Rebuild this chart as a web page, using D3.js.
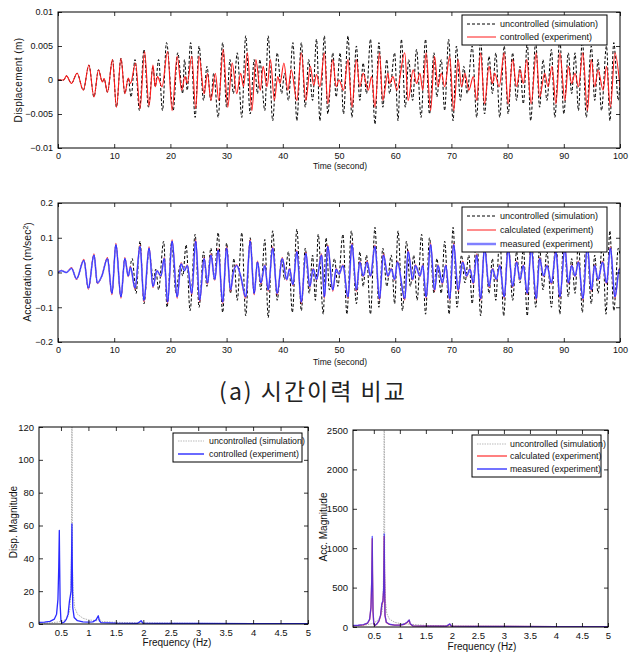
<!DOCTYPE html>
<html>
<head>
<meta charset="utf-8">
<script src="https://cdn.jsdelivr.net/npm/d3@7"></script>
<style>
  body { margin: 0; background: #fff; }
  text { font-family: "Liberation Sans", Arial, sans-serif; }
</style>
</head>
<body>
<div id="chart"></div>
<script>
// ---- data ----

// displacement time history [time (s), displacement (m)]
const dispControlled = [[0,0],[1,0],[1.5,0.0006],[2.4,-0.0005],[3.4,0.001],[4.5,-0.0015],[5.5,0.0022],[6.4,-0.0025],[7.2,0.0015],[7.9,-0.0003],[8.2,0.0002],[8.8,-0.0018],[9.7,0.003],[10.4,-0.004],[11.2,0.0032],[11.9,-0.002],[12.5,0.0003],[12.9,-0.0005],[13.8,0.0025],[14.6,-0.0042],[15.4,0.0042],[16.2,-0.0038],[16.9,0.0022],[17.3,-0.001],[17.7,0.0005],[18.5,-0.001],[19.5,0.0042],[20.3,-0.0045],[21.2,0.0035],[22,-0.0015],[22.6,0.0005],[23,-0.0005],[23.8,0.0035],[24.5,-0.0042],[25.1,0.0035],[26,-0.002],[26.6,0.001],[27.2,-0.003],[28,0.001],[28.6,-0.003],[29.4,0.0045],[30.2,-0.004],[31,0.0025],[31.8,-0.002],[32.5,0.001],[33,-0.001],[33.7,0.004],[34.5,-0.0045],[35.2,0.003],[36,-0.0015],[36.5,0.002],[37.2,-0.001],[37.8,0.003],[38.5,-0.003],[39.1,0.0005],[39.5,-0.0005],[40.2,0.0025],[40.9,-0.0015],[41.5,0.0015],[42.5,-0.003],[43.3,0.004],[44.1,-0.003],[44.9,0.002],[45.5,-0.0008],[46,0.0008],[46.6,-0.001],[47.4,0.004],[48,-0.0035],[48.9,0.003],[49.5,-0.001],[50,0],[50.8,-0.0015],[51.6,0.003],[52.3,-0.004],[53.1,0.003],[53.7,-0.001],[54.3,0.001],[55.2,-0.0015],[55.8,0.0005],[56.4,-0.004],[57.2,0.004],[57.8,-0.003],[58.7,0.001],[59,-0.0005],[59.6,0.0005],[60.3,-0.0015],[61.7,0.004],[62.3,-0.003],[63.2,0.0015],[63.8,-0.0005],[64.4,0.001],[64.9,-0.0015],[65.5,0.004],[66.3,-0.0045],[67,0.0035],[67.6,-0.001],[68.2,0.001],[68.8,-0.001],[69.7,0.0035],[70.4,-0.0045],[71.2,0.003],[71.8,-0.001],[72.4,0.001],[73.1,-0.0015],[73.9,0.0005],[74.5,-0.003],[75.2,0.004],[75.9,-0.0035],[76.7,0.002],[77.3,-0.0005],[77.7,0.001],[78.5,-0.001],[79.4,0.004],[80.1,-0.0035],[80.9,0.003],[81.6,-0.001],[82.2,0.0015],[82.8,-0.0005],[83.4,0.003],[84.2,-0.0035],[85.1,0.004],[85.7,-0.0025],[86.6,0.001],[87.2,-0.001],[87.9,0.002],[88.6,-0.0035],[89.3,0.004],[90.2,-0.003],[90.8,0.002],[91.4,-0.0005],[92,0.001],[92.6,-0.001],[93.4,0.004],[94.2,-0.0045],[94.9,0.003],[95.5,-0.001],[96.1,0.0015],[97,-0.0015],[97.6,0.002],[98.3,-0.004],[99.1,0.004],[100,-0.001]];

const dispUncontrolled = [[0,0],[1,0],[1.5,0.0006],[2.4,-0.0005],[3.4,0.001],[4.5,-0.0015],[5.5,0.0022],[6.4,-0.0025],[7.2,0.0015],[7.9,-0.0003],[8.2,0.0002],[8.8,-0.0018],[9.7,0.003],[10.4,-0.004],[11.2,0.0032],[11.9,-0.002],[12.5,0.0003],[13,-0.0025],[13.7,0.003],[14.5,-0.0045],[15.3,0.0045],[16.1,-0.004],[16.9,0.002],[17.3,-0.001],[17.9,0.003],[18.6,-0.0045],[19.3,0.0055],[20.5,-0.0045],[21.3,0.004],[22.2,-0.002],[22.5,0.003],[23,-0.0015],[23.6,0.0055],[24.4,-0.0055],[25.1,0.005],[25.9,-0.003],[26.5,0.002],[27.2,-0.003],[27.7,0.001],[28.5,-0.0055],[29.3,0.0055],[30,-0.004],[30.6,0.003],[31.2,-0.002],[31.9,0.004],[32.7,-0.0055],[33.4,0.0065],[34.2,-0.005],[34.9,0.003],[35.5,-0.002],[35.9,0.003],[36.8,-0.0045],[37.4,0.0065],[38.2,-0.006],[39,0.004],[39.8,-0.002],[40.3,0.001],[41,-0.003],[41.8,0.0055],[42.5,-0.006],[43.3,0.0055],[44,-0.004],[44.6,0.003],[45.3,-0.003],[46,0.006],[46.6,-0.006],[47.4,0.0065],[48,-0.005],[48.9,0.004],[49.5,-0.0025],[50.2,0.004],[50.8,-0.005],[51.6,0.0065],[52.3,-0.0055],[53.1,0.005],[53.7,-0.003],[54.3,0.0025],[54.9,-0.002],[55.6,0.006],[56.4,-0.0065],[57.1,0.0055],[57.8,-0.004],[58.5,0.003],[59,-0.002],[59.9,0.004],[60.5,-0.006],[61.1,0.006],[61.8,-0.004],[62.4,0.003],[63.1,-0.003],[63.8,0.0045],[64.6,-0.0055],[65.4,0.006],[66.1,-0.005],[66.9,0.004],[67.4,-0.0025],[68.2,0.003],[68.8,-0.0045],[69.5,0.006],[70.3,-0.006],[70.9,0.005],[71.6,-0.003],[72.2,0.002],[72.8,-0.002],[73.7,0.005],[74.5,-0.0055],[75.2,0.006],[75.9,-0.005],[76.7,0.0035],[77.3,-0.002],[77.9,0.004],[78.6,-0.0055],[79.4,0.005],[80.1,-0.005],[80.9,0.004],[81.6,-0.003],[82.2,0.002],[82.8,-0.0035],[83.5,0.0055],[84.1,-0.006],[85,0.0055],[85.7,-0.004],[86.3,0.003],[87,-0.003],[87.8,0.0045],[88.4,-0.0055],[89.3,0.006],[90,-0.005],[90.8,0.004],[91.4,-0.002],[92,0.004],[92.6,-0.0045],[93.3,0.006],[94,-0.0055],[94.9,0.005],[95.5,-0.003],[96.1,0.003],[96.7,-0.0045],[97.6,0.005],[98.2,-0.006],[98.9,0.0055],[99.7,-0.003],[100,0]];

// acceleration time history (m/s^2)
const accTime = [0,0.6,1.5,2.4,3.3,4.6,5.4,6.4,7,7.8,8.8,9.6,10.3,11.2,11.9,12.5,12.9,13.7,14.6,15.3,16.2,16.9,17.6,18.3,18.9,19.5,20.3,21.2,21.9,22.5,23,23.8,24.5,25.2,26,26.6,27.2,27.9,28.5,29.3,30,30.7,31.2,31.8,32.5,33.4,34.2,34.9,35.5,36.1,36.8,37.4,38.2,39,39.9,40.7,41.2,41.8,42.5,43.3,44.1,44.8,45.4,46,46.9,47.4,48,48.9,49.5,50,50.7,51.6,52.3,53.1,53.7,54.3,55,55.6,56.4,57.2,57.9,58.7,59.3,59.9,60.4,61.7,62.3,63.1,63.6,64.4,64.9,65.5,66.3,67,67.6,68.4,69,69.7,70.4,71.2,72,72.7,73.3,73.9,74.5,75.2,75.9,76.7,77.3,78,78.6,79.4,80.1,80.9,81.6,82.2,82.8,83.5,84.2,85.1,85.7,86.4,87,87.8,88.6,89.3,90.2,90.8,91.4,92,92.6,93.4,94.2,94.9,95.5,96.1,96.9,97.6,98.3,99.1,99.9,100];
const accMeasured = [0,0.005,0,0.012,-0.018,0.035,-0.045,0.05,-0.03,-0.01,0.04,-0.06,0.08,-0.07,0.04,-0.01,0.015,-0.045,0.075,-0.08,0.07,-0.04,0.005,-0.01,0.04,-0.085,0.09,-0.07,0.025,0.005,0.02,-0.06,0.09,-0.08,0.04,-0.03,0.05,-0.02,0.065,-0.085,0.07,-0.05,0,0.02,-0.01,-0.07,0.09,-0.06,0.03,-0.03,0.02,-0.05,0.07,-0.06,0.04,-0.02,0.01,-0.035,0.06,-0.085,0.055,-0.04,0.01,-0.02,0.05,-0.07,0.075,-0.05,0.01,-0.005,0.02,-0.07,0.08,-0.05,0.03,-0.01,0.03,-0.01,0.075,-0.075,0.05,-0.01,0.01,-0.02,0.03,-0.075,0.06,-0.02,0.02,-0.01,0.02,-0.07,0.08,-0.05,0.02,-0.03,0.02,-0.075,0.08,-0.05,0.03,-0.01,0.01,-0.03,0.05,-0.075,0.07,-0.04,0.01,-0.02,0.02,-0.07,0.07,-0.04,0.03,-0.02,0.02,-0.06,0.07,-0.075,0.04,-0.01,0.02,-0.03,0.06,-0.07,0.07,-0.03,0.02,-0.01,0.03,-0.075,0.075,-0.05,0.02,-0.02,0.03,-0.03,0.07,-0.07,0.01,0.01];
const accCalculated = [0,0.006,0,0.014,-0.02,0.038,-0.048,0.054,-0.032,-0.01,0.043,-0.064,0.084,-0.074,0.043,-0.012,0.017,-0.048,0.079,-0.084,0.074,-0.043,0.006,-0.012,0.043,-0.089,0.094,-0.074,0.028,0.006,0.022,-0.064,0.094,-0.084,0.043,-0.033,0.054,-0.022,0.069,-0.089,0.074,-0.054,0,0.022,-0.012,-0.074,0.094,-0.064,0.033,-0.033,0.022,-0.054,0.074,-0.064,0.043,-0.022,0.012,-0.038,0.064,-0.089,0.058,-0.043,0.012,-0.022,0.054,-0.074,0.079,-0.054,0.012,-0.006,0.022,-0.074,0.084,-0.054,0.033,-0.012,0.033,-0.012,0.079,-0.079,0.054,-0.012,0.012,-0.022,0.033,-0.079,0.064,-0.022,0.022,-0.012,0.022,-0.074,0.084,-0.054,0.022,-0.033,0.022,-0.079,0.084,-0.054,0.033,-0.012,0.012,-0.033,0.054,-0.079,0.074,-0.043,0.012,-0.022,0.022,-0.074,0.074,-0.043,0.033,-0.022,0.022,-0.064,0.074,-0.079,0.043,-0.012,0.022,-0.033,0.064,-0.074,0.074,-0.033,0.022,-0.012,0.033,-0.079,0.079,-0.054,0.022,-0.022,0.033,-0.033,0.074,-0.074,0.012,0.012];

const accUncontrolled = [[0,0],[0.6,0.005],[1.5,0],[2.4,0.012],[3.3,-0.018],[4.6,0.035],[5.4,-0.045],[6.4,0.05],[7,-0.03],[7.8,-0.01],[8.8,0.04],[9.6,-0.06],[10.3,0.08],[11.2,-0.07],[11.9,0.04],[12.5,-0.01],[13.2,0.04],[13.9,-0.06],[14.6,0.09],[15.3,-0.09],[16.2,0.06],[17,-0.02],[17.4,0.01],[17.9,-0.05],[18.8,0.09],[19.4,-0.1],[20.2,0.085],[21,-0.06],[21.7,0.02],[22.2,-0.01],[22.8,0.08],[23.5,-0.11],[24.4,0.11],[25.1,-0.1],[25.9,0.06],[26.5,-0.04],[27.2,0.07],[27.8,-0.02],[28.5,0.115],[29.3,-0.115],[30,0.085],[30.7,-0.06],[31.3,0.04],[31.9,-0.08],[32.7,0.115],[33.4,-0.125],[34.2,0.1],[34.9,-0.06],[35.5,0.03],[36.1,-0.05],[36.8,0.095],[37.4,-0.13],[38.2,0.12],[39,-0.08],[39.8,0.04],[40.3,-0.02],[41,0.06],[41.7,-0.115],[42.5,0.125],[43.3,-0.11],[44,0.07],[44.7,-0.06],[45.3,0.05],[45.8,-0.08],[46.3,0.11],[47.2,-0.12],[47.7,0.1],[48.3,-0.05],[49.2,0.04],[49.8,-0.04],[50.7,0.11],[51.4,-0.12],[52.2,0.12],[53.1,-0.09],[53.7,0.06],[54.3,-0.04],[54.9,0.05],[55.6,-0.12],[56.4,0.13],[57.1,-0.1],[57.8,0.07],[58.5,-0.04],[59.3,0.05],[59.9,-0.09],[60.5,0.12],[61.3,-0.11],[62,0.09],[62.7,-0.04],[63.3,0.05],[63.9,-0.08],[64.7,0.11],[65.4,-0.12],[66.1,0.1],[66.9,-0.06],[67.4,0.04],[68.2,-0.06],[68.8,0.09],[69.6,-0.12],[70.3,0.13],[71,-0.1],[71.8,0.05],[72.4,-0.03],[73.1,0.05],[73.7,-0.09],[74.5,0.12],[75.2,-0.125],[75.9,0.09],[76.7,-0.06],[77.3,0.04],[77.9,-0.08],[78.6,0.11],[79.3,-0.125],[80.1,0.1],[80.9,-0.08],[81.6,0.06],[82.2,-0.03],[82.8,0.07],[83.5,-0.125],[84.2,0.12],[85,-0.1],[85.7,0.07],[86.3,-0.05],[87,0.06],[87.8,-0.1],[88.6,0.11],[89.3,-0.12],[90,0.11],[90.8,-0.07],[91.4,0.04],[92,-0.06],[92.6,0.09],[93.3,-0.115],[94,0.11],[94.9,-0.09],[95.5,0.05],[96.1,-0.06],[96.9,0.09],[97.5,-0.12],[98.2,0.12],[98.9,-0.11],[99.7,0.07],[100,0.05]];

// frequency spectra [frequency (Hz), magnitude]
const dispSpecUncontrolled = [[0.1,0.4],[0.3,0.7],[0.45,1.2],[0.55,2],[0.62,4],[0.66,8],[0.68,18],[0.69,40],[0.697,125],[0.703,125],[0.71,35],[0.72,20],[0.75,10],[0.8,6],[0.9,3.5],[1,2.5],[1.15,2],[1.2,3],[1.25,1.5],[1.5,1],[2,0.7],[3,0.4],[4,0.3],[5,0.2]];
const dispSpecControlled = [[0.1,1],[0.2,1.2],[0.3,1.6],[0.38,3],[0.42,6],[0.445,15],[0.46,35],[0.47,57],[0.475,40],[0.485,12],[0.5,2],[0.52,0.6],[0.56,1.2],[0.6,3],[0.63,6],[0.655,14],[0.67,17],[0.685,20],[0.695,45],[0.7,61],[0.705,40],[0.715,10],[0.74,4],[0.8,2],[0.9,1.3],[1,1.1],[1.08,1.3],[1.14,2.5],[1.18,5],[1.2,2],[1.23,0.8],[1.5,0.5],[1.9,0.4],[1.96,2],[1.99,0.5],[2.5,0.3],[3,0.3],[4,0.2],[5,0.2]];
const accSpecUncontrolled = [[0.1,10],[0.3,20],[0.45,40],[0.55,70],[0.62,120],[0.66,200],[0.68,400],[0.69,900],[0.697,2600],[0.703,2600],[0.71,700],[0.72,350],[0.75,170],[0.8,100],[0.9,60],[1,45],[1.2,35],[1.5,20],[2,12],[3,8],[5,5]];
const accSpecCalculated = [[0.1,18],[0.2,20],[0.3,28],[0.38,48],[0.42,95],[0.445,240],[0.46,580],[0.47,1120],[0.475,680],[0.485,190],[0.5,38],[0.52,18],[0.56,38],[0.6,78],[0.63,145],[0.655,290],[0.675,320],[0.69,480],[0.7,1150],[0.705,680],[0.715,145],[0.74,58],[0.8,33],[0.9,24],[1,24],[1.08,33],[1.14,58],[1.18,85],[1.2,38],[1.25,14],[1.5,11],[1.9,11],[1.96,35],[1.99,11],[2.5,7],[3,7],[4,5],[5,5]];
const accSpecMeasured = [[0.1,20],[0.2,22],[0.3,30],[0.38,50],[0.42,100],[0.445,250],[0.46,600],[0.47,1150],[0.475,700],[0.485,200],[0.5,40],[0.52,20],[0.56,40],[0.6,80],[0.63,150],[0.655,300],[0.675,330],[0.69,500],[0.7,1180],[0.705,700],[0.715,150],[0.74,60],[0.8,35],[0.9,25],[1,25],[1.08,35],[1.14,60],[1.18,90],[1.2,40],[1.25,15],[1.5,12],[1.9,12],[1.96,40],[1.99,12],[2.5,8],[3,8],[4,6],[5,6]];

// tick values
const timeTicks = d3.range(0, 101, 10);
const dispTicks = [-0.01, -0.005, 0, 0.005, 0.01];
const accTicks = [-0.2, -0.1, 0, 0.1, 0.2];
const freqTicks = [0.5, 1, 1.5, 2, 2.5, 3, 3.5, 4, 4.5, 5];
const dispMagTicks = [0, 20, 40, 60, 80, 100, 120];
const accMagTicks = [0, 500, 1000, 1500, 2000, 2500];

// ---- drawing ----
const svg = d3.select("#chart").append("svg")
  .attr("width", 635)
  .attr("height", 655);

let clipCount = 0;

// draws a MATLAB style box with inward ticks on all sides
function panel(o) {
  const x = d3.scaleLinear().domain(o.xDomain).range([o.left, o.right]);
  const y = d3.scaleLinear().domain(o.yDomain).range([o.bottom, o.top]);
  const id = "clip" + (clipCount++);
  svg.append("clipPath").attr("id", id)
    .append("rect")
    .attr("x", o.left).attr("y", o.top)
    .attr("width", o.right - o.left).attr("height", o.bottom - o.top);

  const lines = svg.append("g").attr("clip-path", `url(#${id})`);
  const front = svg.append("g");

  front.append("g")
    .attr("transform", `translate(0,${o.bottom})`)
    .call(d3.axisBottom(x).tickValues(o.xTicks).tickSize(-4).tickPadding(5).tickFormat(o.xFmt || d3.format("")));
  front.append("g")
    .attr("transform", `translate(0,${o.top})`)
    .call(d3.axisTop(x).tickValues(o.xTicks).tickSize(-4).tickFormat(""));
  front.append("g")
    .attr("transform", `translate(${o.left},0)`)
    .call(d3.axisLeft(y).tickValues(o.yTicks).tickSize(-4).tickPadding(5).tickFormat(o.yFmt || d3.format("")));
  front.append("g")
    .attr("transform", `translate(${o.right},0)`)
    .call(d3.axisRight(y).tickValues(o.yTicks).tickSize(-4).tickFormat(""));

  front.selectAll(".domain").remove();
  front.selectAll(".tick line").attr("stroke", "#000").attr("stroke-width", 0.8);
  front.selectAll(".tick text")
    .attr("fill", "#111")
    .style("font-size", o.fontSize + "px")
    .style("font-family", "Liberation Sans, Arial, sans-serif");

  front.append("rect")
    .attr("x", o.left).attr("y", o.top)
    .attr("width", o.right - o.left).attr("height", o.bottom - o.top)
    .attr("fill", "none").attr("stroke", "#000").attr("stroke-width", 1);

  return {x, y, lines, front};
}

function drawLine(p, data, stroke, width, dash, curve, opacity) {
  p.lines.append("path")
    .datum(data)
    .attr("fill", "none")
    .attr("stroke", stroke)
    .attr("stroke-width", width)
    .attr("stroke-dasharray", dash || null)
    .attr("stroke-opacity", opacity || 1)
    .attr("stroke-linejoin", "round")
    .attr("d", d3.line()
      .x(d => p.x(d[0]))
      .y(d => p.y(d[1]))
      .curve(curve || d3.curveLinear));
}

function legend(p, box, items, lineX0, lineX1, textX, rowYs, fontSize) {
  p.front.append("rect")
    .attr("x", box[0]).attr("y", box[1])
    .attr("width", box[2]).attr("height", box[3])
    .attr("fill", "#fff").attr("stroke", "#000").attr("stroke-width", 1);
  items.forEach((it, i) => {
    p.front.append("line")
      .attr("x1", lineX0).attr("x2", lineX1)
      .attr("y1", rowYs[i]).attr("y2", rowYs[i])
      .attr("stroke", it.color).attr("stroke-width", it.width)
      .attr("stroke-dasharray", it.dash || null);
    p.front.append("text")
      .attr("x", textX).attr("y", rowYs[i])
      .attr("dy", "0.35em")
      .style("font-size", fontSize + "px")
      .attr("fill", "#111")
      .text(it.label);
  });
}

function yLabel(cx, cy, size) {
  return svg.append("text")
    .attr("transform", `translate(${cx + size * 0.35},${cy}) rotate(-90)`)
    .attr("text-anchor", "middle")
    .style("font-size", size + "px")
    .attr("fill", "#111");
}

function xLabel(cx, cy, size, label) {
  svg.append("text")
    .attr("x", cx).attr("y", cy)
    .attr("text-anchor", "middle")
    .style("font-size", size + "px")
    .attr("fill", "#111")
    .text(label);
}

// panel 1: displacement
const p1 = panel({left: 58, right: 620, top: 12, bottom: 148,
  xDomain: [0, 100], yDomain: [-0.01, 0.01],
  xTicks: timeTicks, yTicks: dispTicks, fontSize: 9});
drawLine(p1, dispUncontrolled, "#000", 1, "3,2", d3.curveMonotoneX);
drawLine(p1, dispControlled, "#ff1a1a", 1.1, null, d3.curveMonotoneX);
legend(p1, [462, 15, 145, 30], [
  {label: "uncontrolled (simulation)", color: "#000", width: 1, dash: "3,2"},
  {label: "controlled (experiment)", color: "#ff1a1a", width: 1}
], 467, 496, 500, [24, 37], 9);
xLabel(340, 169, 8.5, "Time (second)");
yLabel(18, 80, 10).style("letter-spacing", "0.4px").text("Displacement (m)");

// panel 2: acceleration
const p2 = panel({left: 58, right: 620, top: 203, bottom: 342,
  xDomain: [0, 100], yDomain: [-0.2, 0.2],
  xTicks: timeTicks, yTicks: accTicks, fontSize: 9});
drawLine(p2, accUncontrolled, "#000", 1, "3,2", d3.curveMonotoneX);
drawLine(p2, accTime.map((t, i) => [t, accCalculated[i]]), "#ff1a1a", 1.2, null, d3.curveMonotoneX);
drawLine(p2, accTime.map((t, i) => [t, accMeasured[i]]), "#a0a0ff", 1.8, null, d3.curveMonotoneX);
drawLine(p2, accTime.map((t, i) => [t, accMeasured[i]]), "#1010ff", 0.8, null, d3.curveMonotoneX);
legend(p2, [462, 207, 145, 45], [
  {label: "uncontrolled (simulation)", color: "#000", width: 1, dash: "3,2"},
  {label: "calculated (experiment)", color: "#ff1a1a", width: 1},
  {label: "measured (experiment)", color: "#8080ff", width: 2.5}
], 467, 496, 500, [216, 230, 244], 9);
xLabel(340, 365, 8.5, "Time (second)");
const accLab = yLabel(27, 272, 10.5);
accLab.append("tspan").text("Acceleration (m/sec");
accLab.append("tspan").attr("dy", "-0.4em").style("font-size", "7px").text("2");
accLab.append("tspan").attr("dy", "0.4em").text(")");

// title
svg.append("text")
  .attr("x", 313).attr("y", 400)
  .attr("text-anchor", "middle")
  .style("font-family", "'Noto Sans CJK KR', sans-serif")
  .style("font-size", "23px")
  .style("letter-spacing", "2px")
  .attr("fill", "#222")
  .text("(a) 시간이력 비교");

// panel 3: displacement spectrum
const p3 = panel({left: 39, right: 308, top: 427, bottom: 624,
  xDomain: [0.1, 5], yDomain: [0, 120],
  xTicks: freqTicks, yTicks: dispMagTicks, fontSize: 9.5});
drawLine(p3, dispSpecUncontrolled, "#b0b0b0", 1, "1.5,1");
drawLine(p3, dispSpecControlled, "#2a2aff", 1.3);
legend(p3, [173, 433, 129, 29], [
  {label: "uncontrolled (simulation)", color: "#bbb", width: 1, dash: "1.5,1"},
  {label: "controlled (experiment)", color: "#2a2aff", width: 1.4}
], 178, 204, 209, [441, 454], 8.8);
xLabel(177, 646, 10, "Frequency (Hz)");
yLabel(13, 522, 10).text("Disp. Magnitude");

// panel 4: acceleration spectrum
const p4 = panel({left: 353, right: 608, top: 430, bottom: 627,
  xDomain: [0.1, 5], yDomain: [0, 2500],
  xTicks: freqTicks, yTicks: accMagTicks, fontSize: 9.5});
drawLine(p4, accSpecUncontrolled, "#b0b0b0", 1, "1.5,1");
drawLine(p4, accSpecCalculated, "#ff4040", 1.3);
drawLine(p4, accSpecMeasured, "#2a2aff", 1.3, null, null, 0.75);
legend(p4, [472, 435, 129, 42], [
  {label: "uncontrolled (simulation)", color: "#bbb", width: 1, dash: "1.5,1"},
  {label: "calculated (experiment)", color: "#ff6060", width: 1.6},
  {label: "measured (experiment)", color: "#5050ff", width: 1.6}
], 477, 507, 510, [444, 456, 469], 8.8);
xLabel(482, 650, 10, "Frequency (Hz)");
yLabel(323, 527, 10).text("Acc. Magnitude");
</script>
</body>
</html>
